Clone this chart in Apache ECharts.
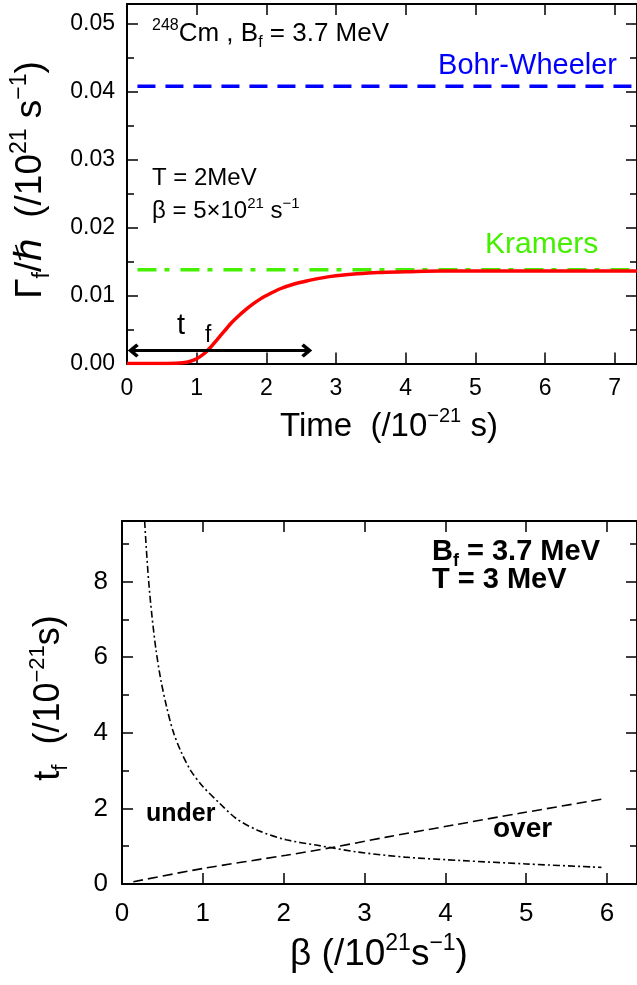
<!DOCTYPE html>
<html>
<head>
<meta charset="utf-8">
<script src="https://cdn.jsdelivr.net/npm/echarts@6.0.0/dist/echarts.min.js"></script>
<style>
html, body { margin: 0; padding: 0; background: #fff; }
#chart { width: 637px; height: 985px; }
</style>
</head>
<body>
<div id="chart"></div>
<script>
// upper panel: fission width vs time
const timeVals  = [0, 0.5, 0.7, 0.8, 0.9, 1.0, 1.1, 1.2, 1.3, 1.4, 1.5, 1.6, 1.7, 1.8, 1.9, 2.0, 2.2, 2.4, 2.6, 2.8, 3.0, 3.3, 3.6, 4.0, 4.5, 5.0, 6.0, 7.32]
const gammaVals = [0, 0, 0.00002, 0.0001, 0.0003, 0.0007, 0.0014, 0.0024, 0.0036, 0.0048, 0.0060, 0.0070, 0.0079, 0.0087, 0.0094, 0.0100, 0.0110, 0.0117, 0.0122, 0.0126, 0.0129, 0.0132, 0.0134, 0.0135, 0.0136, 0.0136, 0.0136, 0.0136]
const bohrWheeler = 0.0408
const kramers = 0.0138
const refLineStart = 0.15
const tfArrow = [0.09, 2.58]
const tfArrowLevel = 0.0019

// lower panel: transient time vs beta
const betaUnder = [0.28, 0.30, 0.33, 0.37, 0.42, 0.48, 0.55, 0.63, 0.73, 0.85, 1.0, 1.2, 1.42, 1.7, 2.03, 2.4, 2.9, 3.5, 4.2, 5.0, 5.93]
const tfUnder   = [9.6, 8.9, 8.0, 7.1, 6.2, 5.4, 4.7, 4.05, 3.5, 3.0, 2.58, 2.15, 1.72, 1.40, 1.17, 1.03, 0.85, 0.71, 0.62, 0.53, 0.44]
const betaOver  = [0.14, 1.0, 2.03, 2.61, 3.27, 4.1, 4.92, 5.93]
const tfOver    = [0.06, 0.41, 0.76, 0.97, 1.24, 1.56, 1.87, 2.24]

// axis ranges / tick steps
const timeMax = 7.32, timeStep = 1
const gammaMax = 0.0529, gammaStep = 0.01, gammaMinor = 0.005
const betaMax = 6.37, betaStep = 1
const tfMax = 9.6, tfStep = 2, tfMinor = 1

const FONT = '"Liberation Sans", Arial, "DejaVu Sans", sans-serif'

function axis(o) {
  return Object.assign({
    type: 'value',
    min: 0,
    axisLine: { onZero: false, lineStyle: { color: '#000', width: 2 } },
    axisTick: { inside: true, length: 11, lineStyle: { color: '#000', width: 1.5 } },
    axisLabel: { show: false },
    splitLine: { show: false }
  }, o)
}
function minorAxis(o) {
  return axis(Object.assign({
    axisLine: { show: false, onZero: false },
    axisTick: { inside: true, length: 7, lineStyle: { color: '#000', width: 1.5 } }
  }, o))
}
function label(size, margin, fmt) {
  return { show: true, color: '#000', fontSize: size, fontFamily: FONT, margin: margin, showMaxLabel: false, formatter: fmt }
}

function txt(x, y, text, size, extra) {
  const st = Object.assign({
    text: text, fontSize: size, fontFamily: FONT, fill: '#000', fontWeight: 'normal',
    lineHeight: Math.round(size * 1.25), align: 'left', verticalAlign: 'middle'
  }, extra && extra.style)
  st.rich = {
    sup: { fontSize: Math.round(size * 0.62), lineHeight: Math.round(size * 0.7), verticalAlign: 'top', fontFamily: FONT, fill: st.fill, fontWeight: st.fontWeight },
    sub: { fontSize: Math.round(size * 0.62), lineHeight: Math.round(size * 0.8), verticalAlign: 'bottom', fontFamily: FONT, fill: st.fill, fontWeight: st.fontWeight }
  }
  return Object.assign({ type: 'text', x: x, y: y, silent: true }, extra, { style: st })
}

const chevron = 'path://M0,10 L10,0 L20,10 L16.5,13 L10,6.5 L3.5,13 Z'

const chart = echarts.init(document.getElementById('chart'))
const option = {
  animation: false,
  backgroundColor: '#fff',
  grid: [
    { left: 127, top: 4, width: 510, height: 359.5 },
    { left: 122, top: 521, width: 515, height: 363 }
  ],
  xAxis: [
    axis({ gridIndex: 0, position: 'bottom', max: timeMax, interval: timeStep, axisLabel: label(23, 14) }),
    axis({ gridIndex: 0, position: 'top', max: timeMax, interval: timeStep }),
    axis({ gridIndex: 1, position: 'bottom', max: betaMax, interval: betaStep, axisLabel: label(26, 17) }),
    axis({ gridIndex: 1, position: 'top', max: betaMax, interval: betaStep })
  ],
  yAxis: [
    axis({ gridIndex: 0, position: 'left', max: gammaMax, interval: gammaStep, axisLabel: label(23, 12, v => v.toFixed(2)) }),
    minorAxis({ gridIndex: 0, position: 'left', max: gammaMax, interval: gammaMinor }),
    axis({ gridIndex: 0, position: 'right', max: gammaMax, interval: gammaStep }),
    minorAxis({ gridIndex: 0, position: 'right', max: gammaMax, interval: gammaMinor }),
    axis({ gridIndex: 1, position: 'left', max: tfMax, interval: tfStep, axisLabel: label(26, 14) }),
    minorAxis({ gridIndex: 1, position: 'left', max: tfMax, interval: tfMinor }),
    axis({ gridIndex: 1, position: 'right', max: tfMax, interval: tfStep }),
    minorAxis({ gridIndex: 1, position: 'right', max: tfMax, interval: tfMinor })
  ],
  series: [
    {
      name: 'Bohr-Wheeler', type: 'line', xAxisIndex: 0, yAxisIndex: 0, showSymbol: false, silent: true,
      data: [[refLineStart, bohrWheeler], [timeMax, bohrWheeler]],
      lineStyle: { color: '#0000ff', width: 3.5, type: [18, 10] }
    },
    {
      name: 'Kramers', type: 'line', xAxisIndex: 0, yAxisIndex: 0, showSymbol: false, silent: true,
      data: [[refLineStart, kramers], [timeMax, kramers]],
      lineStyle: { color: '#44f000', width: 3.5, type: [19, 8, 5, 11] }
    },
    {
      name: 'gamma', type: 'line', xAxisIndex: 0, yAxisIndex: 0, showSymbol: false, silent: true,
      smooth: 0.35, z: 3,
      data: timeVals.map((t, i) => [t, gammaVals[i]]),
      lineStyle: { color: '#ff0000', width: 3.5 }
    },
    {
      name: 'tf', type: 'line', xAxisIndex: 0, yAxisIndex: 0, showSymbol: false, silent: true, z: 4,
      data: [[tfArrow[0], tfArrowLevel], [tfArrow[1], tfArrowLevel]],
      lineStyle: { color: '#000', width: 3 },
      markLine: {
        silent: true, animation: false,
        symbol: [chevron, chevron], symbolSize: [14, 11],
        lineStyle: { color: '#000', width: 3, type: 'solid' },
        label: { show: false },
        data: [[{ coord: [tfArrow[0], tfArrowLevel] }, { coord: [tfArrow[1], tfArrowLevel] }]]
      }
    },
    {
      name: 'under', type: 'line', xAxisIndex: 2, yAxisIndex: 4, showSymbol: false, silent: true,
      smooth: 0.3,
      data: betaUnder.map((b, i) => [b, tfUnder[i]]),
      lineStyle: { color: '#000', width: 1.6, type: [7, 3, 2, 3] }
    },
    {
      name: 'over', type: 'line', xAxisIndex: 2, yAxisIndex: 4, showSymbol: false, silent: true,
      smooth: 0.3,
      data: betaOver.map((b, i) => [b, tfOver[i]]),
      lineStyle: { color: '#000', width: 1.6, type: [10, 5] }
    }
  ],
  graphic: [
    // upper panel
    txt(152, 34, '{sup|248}Cm , B{sub|f} = 3.7 MeV', 26),
    txt(617, 66, 'Bohr-Wheeler', 29, { style: { fill: '#0000ff', align: 'right' } }),
    txt(152, 178, 'T = 2MeV', 24),
    txt(152, 211, 'β = 5×10{sup|21} s{sup|−1}', 24),
    txt(485, 245, 'Kramers', 30, { style: { fill: '#44f000' } }),
    txt(177, 326, 't', 29),
    txt(205, 336, 'f', 23),
    txt(280, 427, 'Time  (/10{sup|−21} s)', 33),
    txt(31, 180, 'Γ{sub|f}/ℏ  (/10{sup|21} s{sup|−1})', 37, { rotation: Math.PI / 2, style: { align: 'center' } }),
    // lower panel
    txt(432, 552, 'B{sub|f} = 3.7 MeV', 29, { style: { fontWeight: 'bold' } }),
    txt(432, 580, 'T = 3 MeV', 29, { style: { fontWeight: 'bold' } }),
    txt(146, 814, 'under', 25, { style: { fontWeight: 'bold' } }),
    txt(493, 829, 'over', 28, { style: { fontWeight: 'bold' } }),
    txt(290, 955, 'β (/10{sup|21}s{sup|−1})', 37),
    txt(49, 698, 't{sub|f}  (/10{sup|−21}s)', 36, { rotation: Math.PI / 2, style: { align: 'center' } })
  ]
}
chart.setOption(option)
</script>
</body>
</html>
